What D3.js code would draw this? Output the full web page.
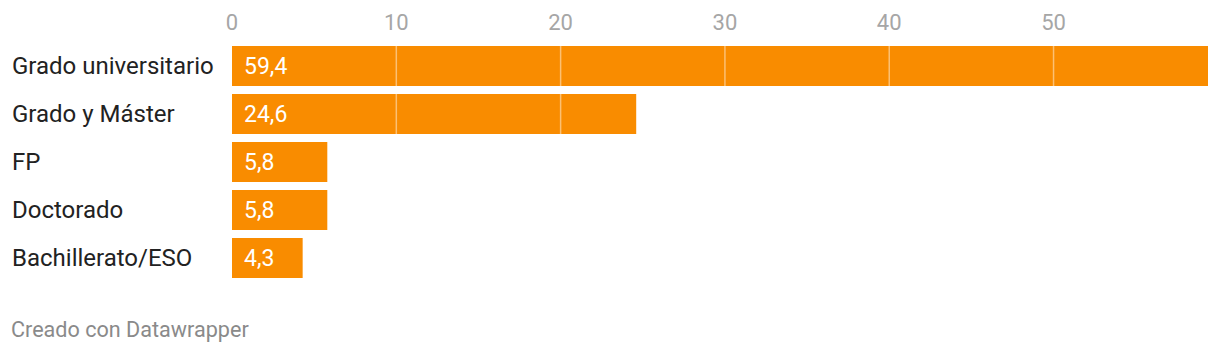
<!DOCTYPE html>
<html>
<head>
<meta charset="utf-8">
<script src="https://cdn.jsdelivr.net/npm/d3@7"></script>
<style>
  body { margin: 0; background: #fff; }
  text { font-family: Roboto, "Noto Sans", sans-serif; }
</style>
</head>
<body>
<svg></svg>
<script>
const WIDTH = 1220;
const HEIGHT = 354;

const categories = ["Grado universitario", "Grado y Máster", "FP", "Doctorado", "Bachillerato/ESO"];
const values = [59.4, 24.6, 5.8, 5.8, 4.3];
const ticks = [0, 10, 20, 30, 40, 50];

const BAR_COLOR = "#f98c00";
const fmt = (v) => v.toFixed(1).replace(".", ",");

var svg = d3.select("svg")
    .attr("width", WIDTH)
    .attr("height", HEIGHT);

var x = d3.scaleLinear()
    .domain([0, 59.4])
    .range([232, 1208]);

var y = d3.scaleBand()
    .domain(categories)
    .range([46, 278])
    .paddingInner(8 / 48)
    .paddingOuter(0);

// tick labels on top
svg.append("g")
    .selectAll("text")
    .data(ticks)
    .join("text")
    .attr("x", d => x(d))
    .attr("y", 30)
    .attr("text-anchor", "middle")
    .style("font-size", "22px")
    .style("fill", "#a6a6a6")
    .text(d => d);

// category labels
svg.append("g")
    .selectAll("text")
    .data(categories)
    .join("text")
    .attr("x", 12)
    .attr("y", d => y(d) + y.bandwidth() / 2)
    .attr("dy", "0.35em")
    .style("font-size", "24px")
    .style("fill", "#222")
    .text(d => d);

// bars
svg.append("g")
    .selectAll("rect")
    .data(values)
    .join("rect")
    .attr("x", x(0))
    .attr("y", (d, i) => y(categories[i]))
    .attr("width", d => x(d) - x(0))
    .attr("height", y.bandwidth())
    .style("fill", BAR_COLOR);

// grid lines, only visible on top of the bars
svg.append("g")
    .selectAll("g")
    .data(values)
    .join("g")
    .each(function(v, i) {
        d3.select(this).selectAll("line")
            .data(ticks.filter(t => t > 0 && t < v))
            .join("line")
            .attr("x1", d => x(d))
            .attr("x2", d => x(d))
            .attr("y1", y(categories[i]))
            .attr("y2", y(categories[i]) + y.bandwidth())
            .attr("stroke", "#fff")
            .attr("stroke-opacity", 0.45)
            .attr("stroke-width", 1.5);
    });

// value labels
svg.append("g")
    .selectAll("text")
    .data(values)
    .join("text")
    .attr("x", x(0) + 12)
    .attr("y", (d, i) => y(categories[i]) + y.bandwidth() / 2)
    .attr("dy", "0.35em")
    .style("font-size", "23px")
    .style("fill", "#fff")
    .text(d => fmt(d));

svg.append("text")
    .attr("x", 11)
    .attr("y", 337)
    .style("font-size", "21.6px")
    .style("fill", "#8a8a8a")
    .text("Creado con Datawrapper");
</script>
</body>
</html>
